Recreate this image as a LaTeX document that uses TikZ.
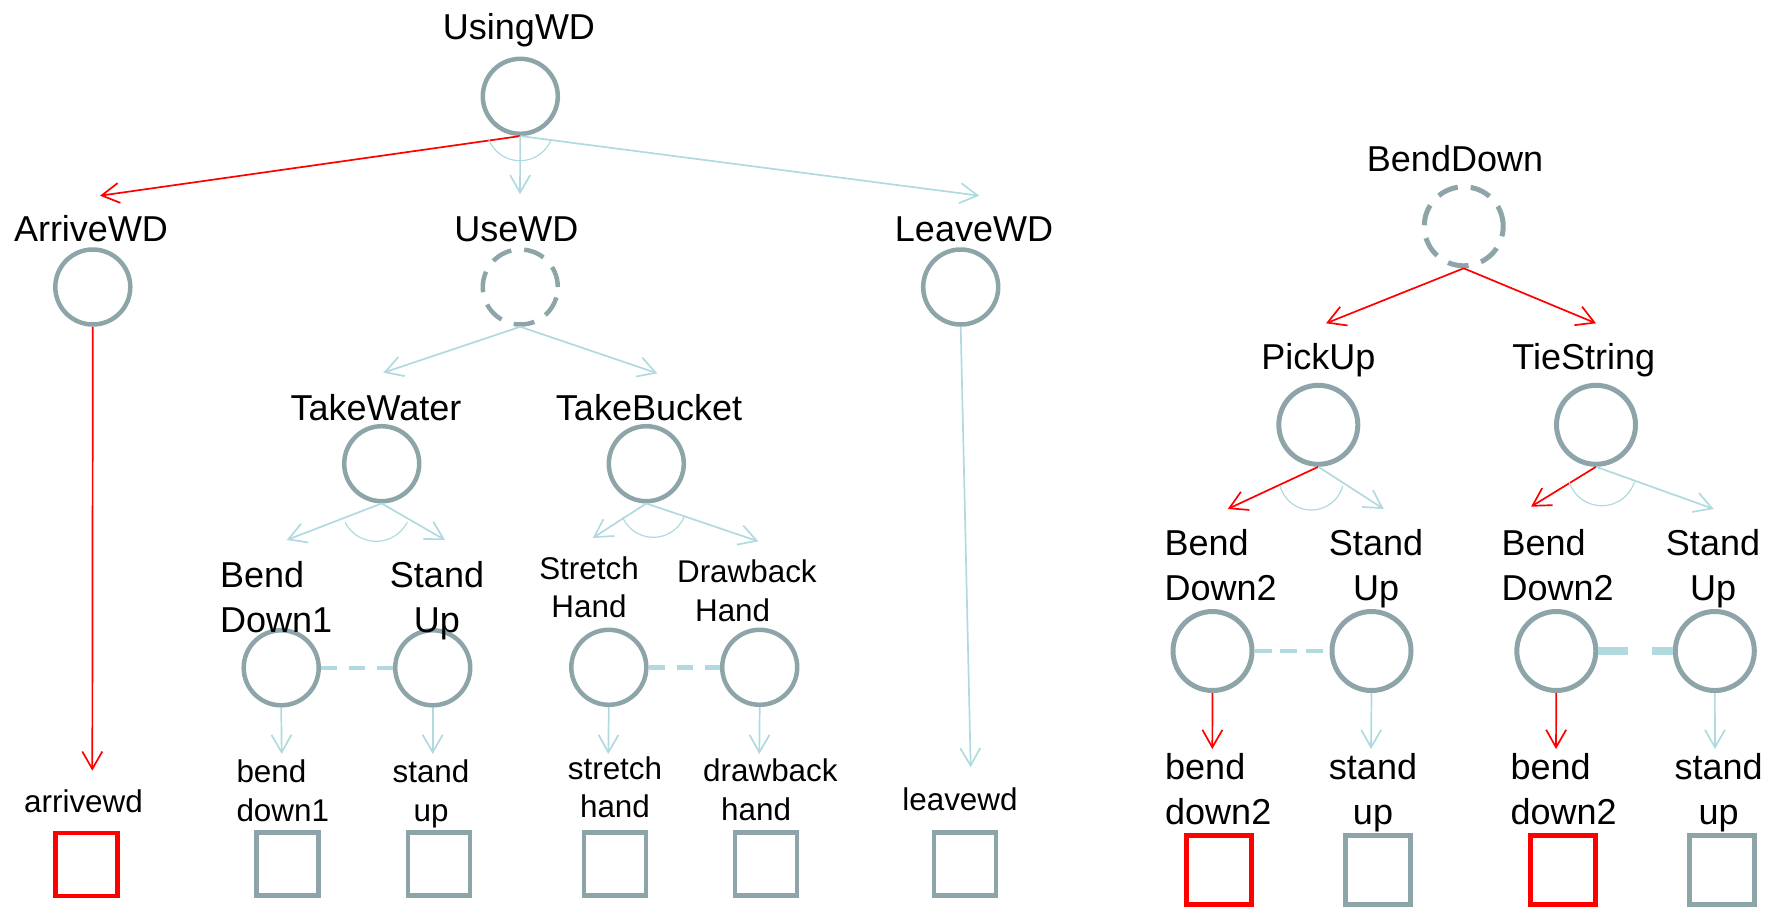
\documentclass[tikz,border=0pt]{standalone}
\usepackage{fontspec}
\setmainfont{Liberation Sans}
\usetikzlibrary{arrows.meta,calc}

\definecolor{nodegray}{HTML}{8DA5A8}
\definecolor{linkblue}{HTML}{B0DADF}
\definecolor{hot}{HTML}{FF0000}

\tikzset{
  big/.style={font=\fontsize{36}{45}\selectfont, inner sep=0pt},
  small/.style={font=\fontsize{31.4}{38.5}\selectfont, inner sep=0pt},
  taskL/.style={circle, draw=nodegray, line width=4.5pt, minimum size=75pt, inner sep=0pt},
  taskR/.style={circle, draw=nodegray, line width=5pt, minimum size=79pt, inner sep=0pt},
  optional/.style={dash pattern=on 21pt off 13pt},
  primL/.style={rectangle, draw=nodegray, line width=4.7pt, minimum width=62pt, minimum height=63pt, inner sep=0pt},
  primR/.style={rectangle, draw=nodegray, line width=5pt, minimum width=65pt, minimum height=69pt, inner sep=0pt},
  hotbox/.style={draw=hot},
  barb/.style={-{Straight Barb[length=17.5pt,width=20pt]}},
  link/.style={draw=linkblue, line width=1.7pt, barb},
  hotlink/.style={draw=hot, line width=1.7pt, barb},
  andarc/.style={draw=linkblue, line width=1.2pt},
  seqthin/.style={draw=linkblue, line width=4.5pt, dash pattern=on 16pt off 12pt},
  seqthinR/.style={draw=linkblue, line width=4pt, dash pattern=on 17pt off 8.5pt},
  seqthick/.style={draw=linkblue, line width=7.3pt, dash pattern=on 30pt off 24pt},
}

\begin{document}
\begin{tikzpicture}[x=1pt,y=-1pt]
\useasboundingbox (0,0) rectangle (1771,908);

% ---------------- UsingWD tree ----------------
\node[taskL] (usingwd) at (520.3,96.3) {};
\node[big, anchor=base] (usingwdT) at (519,39.3) {UsingWD};

\node[taskL] (arrivewd) at (92.8,287) {};
\node[big, anchor=base] (arrivewdT) at (91,241.7) {ArriveWD};
\node[taskL, optional] (usewd) at (520.3,287) {};
\node[big, anchor=base] (usewdT) at (516.3,241.7) {UseWD};
\node[taskL] (leavewd) at (960.7,287) {};
\node[big, anchor=base] (leavewdT) at (974,241.7) {LeaveWD};

\node[taskL] (takewater) at (381.7,463.7) {};
\node[big, anchor=base] (takewaterT) at (376,420) {TakeWater};
\node[taskL] (takebucket) at (646.3,463.7) {};
\node[big, anchor=base] (takebucketT) at (649,420) {TakeBucket};

\node[taskL] (bd1) at (281.2,667.8) {};
\node[big, anchor=north west, align=left] (bd1T) at (220,560.8) {Bend\\Down1};
\node[taskL] (su1) at (432.7,667.8) {};
\node[big, anchor=north, align=center] (su1T) at (437,560.8) {Stand\\Up};
\node[taskL] (sh) at (608.8,667.3) {};
\node[small, anchor=north, align=center] (shT) at (589,556.4) {Stretch\\Hand};
\node[taskL] (dh) at (759.7,667.3) {};
\node[small, anchor=north west, align=left] (dhT) at (676.9,560) {Drawback\\\hspace*{18pt}Hand};

% primitive actions
\node[primL, hotbox] (arrivewdP) at (86.3,864.5) {};
\node[small, anchor=base] (arrivewdPT) at (83.5,812.3) {arrivewd};
\node[primL] (bd1P) at (287.5,864) {};
\node[small, anchor=north west, align=left] (bd1PT) at (236.3,759.7) {bend\\down1};
\node[primL] (su1P) at (439,864) {};
\node[small, anchor=north, align=center] (su1PT) at (431,759.7) {stand\\up};
\node[primL] (shP) at (615,864) {};
\node[small, anchor=north, align=center] (shPT) at (615,756.4) {stretch\\hand};
\node[primL] (dhP) at (766,864) {};
\node[small, anchor=north west, align=left] (dhPT) at (703,759) {drawback\\\hspace*{18pt}hand};
\node[primL] (leavewdP) at (965,864) {};
\node[small, anchor=base] (leavewdPT) at (960,810) {leavewd};

% arrow tips
\coordinate (tArrive) at (100,195.7);
\coordinate (tUse) at (520,194.3);
\coordinate (tLeave) at (979.3,195.7);
\coordinate (tTakeW) at (383.3,372.7);
\coordinate (tTakeB) at (657.3,373.3);
\coordinate (tBD1) at (286.7,540);
\coordinate (tSU1) at (445,540);
\coordinate (tSH) at (592.7,538);
\coordinate (tDH) at (758.3,541.3);
\coordinate (tArriveP) at (92.3,770.7);
\coordinate (tBD1P) at (281.7,754);
\coordinate (tSU1P) at (432.7,754);
\coordinate (tSHP) at (608.3,754);
\coordinate (tDHP) at (759.3,754);
\coordinate (tLeaveP) at (970.7,767.3);

\draw[hotlink] (usingwd.south) -- (tArrive);
\draw[link] (usingwd.south) -- (tUse);
\draw[link] (usingwd.south) -- (tLeave);
\draw[andarc] ($(520,127.1)+(201.3:33.6pt)$) arc[start angle=201.3,end angle=338.7,radius=33.6pt];

\draw[link] (usewd.south) -- (tTakeW);
\draw[link] (usewd.south) -- (tTakeB);

\draw[link] (takewater.south) -- (tBD1);
\draw[link] (takewater.south) -- (tSU1);
\draw[andarc] ($(376.15,506.3)+(207.2:35pt)$) arc[start angle=207.2,end angle=332.8,radius=35pt];

\draw[link] (takebucket.south) -- (tSH);
\draw[link] (takebucket.south) -- (tDH);
\draw[andarc] ($(653.3,503.75)+(203.8:33.55pt)$) arc[start angle=203.8,end angle=336.2,radius=33.55pt];

\draw[seqthin] (bd1.east) -- (su1.west);
\draw[seqthin] (sh.east) -- (dh.west);

\draw[hotlink] (arrivewd.south) -- (tArriveP);
\draw[link] (bd1.south) -- (tBD1P);
\draw[link] (su1.south) -- (tSU1P);
\draw[link] (sh.south) -- (tSHP);
\draw[link] (dh.south) -- (tDHP);
\draw[link] (leavewd.south) -- (tLeaveP);

% ---------------- BendDown tree ----------------
\node[taskR, optional] (benddown) at (1463.7,226.3) {};
\node[big, anchor=base] (benddownT) at (1455,171.7) {BendDown};
\node[taskR] (pickup) at (1318.3,424.8) {};
\node[big, anchor=base] (pickupT) at (1318.3,369.3) {PickUp};
\node[taskR] (tiestring) at (1596,424.8) {};
\node[big, anchor=base] (tiestringT) at (1583.7,369.3) {TieString};

\node[taskR] (bd2a) at (1212.5,651) {};
\node[big, anchor=north west, align=left] (bd2aT) at (1164.4,528.8) {Bend\\Down2};
\node[taskR] (su2a) at (1371.5,651) {};
\node[big, anchor=north, align=center] (su2aT) at (1376,528.8) {Stand\\Up};
\node[taskR] (bd2b) at (1556.3,651) {};
\node[big, anchor=north west, align=left] (bd2bT) at (1501.4,528.8) {Bend\\Down2};
\node[taskR] (su2b) at (1714.8,651) {};
\node[big, anchor=north, align=center] (su2bT) at (1713,528.8) {Stand\\Up};

\node[primR, hotbox] (bd2aP) at (1219.2,870.2) {};
\node[big, anchor=north west, align=left] (bd2aPT) at (1165,753.1) {bend\\down2};
\node[primR] (su2aP) at (1377.7,870.2) {};
\node[big, anchor=north, align=center] (su2aPT) at (1373,753.1) {stand\\up};
\node[primR, hotbox] (bd2bP) at (1563,870.2) {};
\node[big, anchor=north west, align=left] (bd2bPT) at (1510.4,753.1) {bend\\down2};
\node[primR] (su2bP) at (1721.5,870.2) {};
\node[big, anchor=north, align=center] (su2bPT) at (1718.7,753.1) {stand\\up};

\coordinate (tPick) at (1326,323.3);
\coordinate (tTie) at (1596,323.3);
\coordinate (tBD2a) at (1227.7,509);
\coordinate (tSU2a) at (1383.7,509);
\coordinate (tBD2b) at (1531,506.7);
\coordinate (tSU2b) at (1713.7,509);
\coordinate (tBD2aP) at (1212.3,749);
\coordinate (tSU2aP) at (1371,749);
\coordinate (tBD2bP) at (1556,749);
\coordinate (tSU2bP) at (1715,749);

\draw[hotlink] (benddown.south) -- (tPick);
\draw[hotlink] (benddown.south) -- (tTie);

\draw[hotlink] (pickup.south) -- (tBD2a);
\draw[link] (pickup.south) -- (tSU2a);
\draw[andarc] ($(1311.4,477.6)+(194.5:32.4pt)$) arc[start angle=194.5,end angle=345.5,radius=32.4pt];

\draw[hotlink] (tiestring.south) -- (tBD2b);
\draw[link] (tiestring.south) -- (tSU2b);
\draw[andarc] ($(1601.8,471.4)+(198.5:34.3pt)$) arc[start angle=198.5,end angle=341.5,radius=34.3pt];

\draw[seqthinR] (bd2a.east) -- (su2a.west);
\draw[seqthick] (bd2b.east) -- (su2b.west);

\draw[hotlink] (bd2a.south) -- (tBD2aP);
\draw[link] (su2a.south) -- (tSU2aP);
\draw[hotlink] (bd2b.south) -- (tBD2bP);
\draw[link] (su2b.south) -- (tSU2bP);
\end{tikzpicture}
\end{document}
